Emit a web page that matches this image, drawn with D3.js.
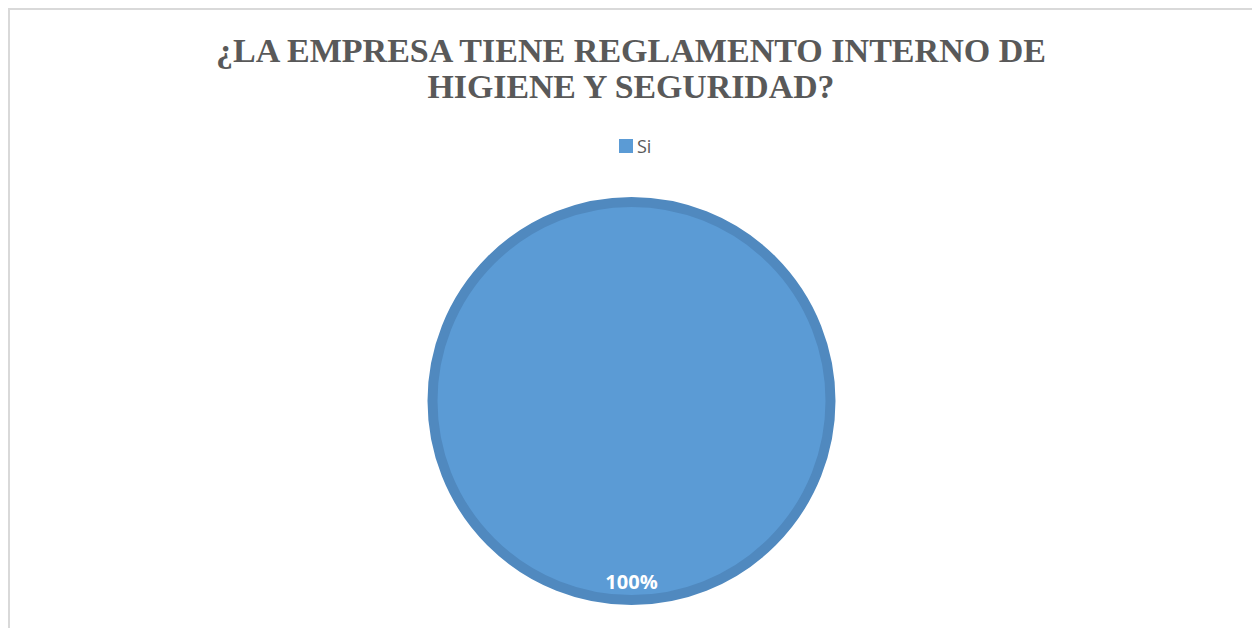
<!DOCTYPE html>
<html><head><meta charset="utf-8">
<script src="https://cdn.jsdelivr.net/npm/d3@7"></script>
<style>html,body{margin:0;padding:0;background:#fff;}svg{display:block;}</style>
</head><body>
<svg id="c" width="1252" height="628"></svg>
<script>
const titleLines = ["¿LA EMPRESA TIENE REGLAMENTO INTERNO DE", "HIGIENE Y SEGURIDAD?"];
const categories = ["Si"];
const values = [100];
const labels = ["100%"];

const svg = d3.select("#c");
// chart border
svg.append("rect").attr("x", 9).attr("y", 9).attr("width", 1260).attr("height", 640)
  .attr("fill", "#fff").attr("stroke", "#d9d9d9").attr("stroke-width", 2);

// title
const tl = [{t: titleLines[0], y: 62, w: 830}, {t: titleLines[1], y: 98, w: 407}];
svg.selectAll("text.title").data(tl).join("text").attr("class", "title")
  .attr("x", 631).attr("y", d => d.y).attr("text-anchor", "middle")
  .attr("font-family", "'Liberation Serif','Times New Roman',serif").attr("font-weight", "bold")
  .attr("font-size", 34).attr("fill", "#595959")
  .attr("textLength", d => d.w).attr("lengthAdjust", "spacingAndGlyphs")
  .text(d => d.t);

const color = d3.scaleOrdinal().domain(categories).range(["#5b9bd5"]);

// legend
const lg = svg.append("g").selectAll("g").data(categories).join("g");
lg.append("rect").attr("x", 619).attr("y", 139).attr("width", 14).attr("height", 14).attr("fill", d => color(d));
lg.append("text").attr("x", 637).attr("y", 153).attr("font-family", "'Open Sans',Lato,sans-serif")
  .attr("font-size", 18).attr("fill", "#595959").text(d => d);

// pie
const cx = 631.5, cy = 401, R = 204, sw = 10;
const pie = d3.pie().sort(null).value(d => d.v);
const data = pie(categories.map((c, i) => ({c, v: values[i], l: labels[i]})));
const arc = d3.arc().innerRadius(0).outerRadius(R - sw / 2);
const g = svg.append("g").attr("transform", `translate(${cx},${cy})`);
g.selectAll("path").data(data).join("path")
  .attr("d", arc).attr("fill", d => color(d.data.c))
  .attr("stroke", "#5089bf").attr("stroke-width", sw);
g.selectAll("text").data(data).join("text")
  .attr("x", 0).attr("y", 188).attr("text-anchor", "middle")
  .attr("font-family", "'Open Sans',Lato,sans-serif").attr("font-weight", "bold")
  .attr("font-size", 20).attr("fill", "#fff").text(d => d.data.l);
</script>
</body></html>
